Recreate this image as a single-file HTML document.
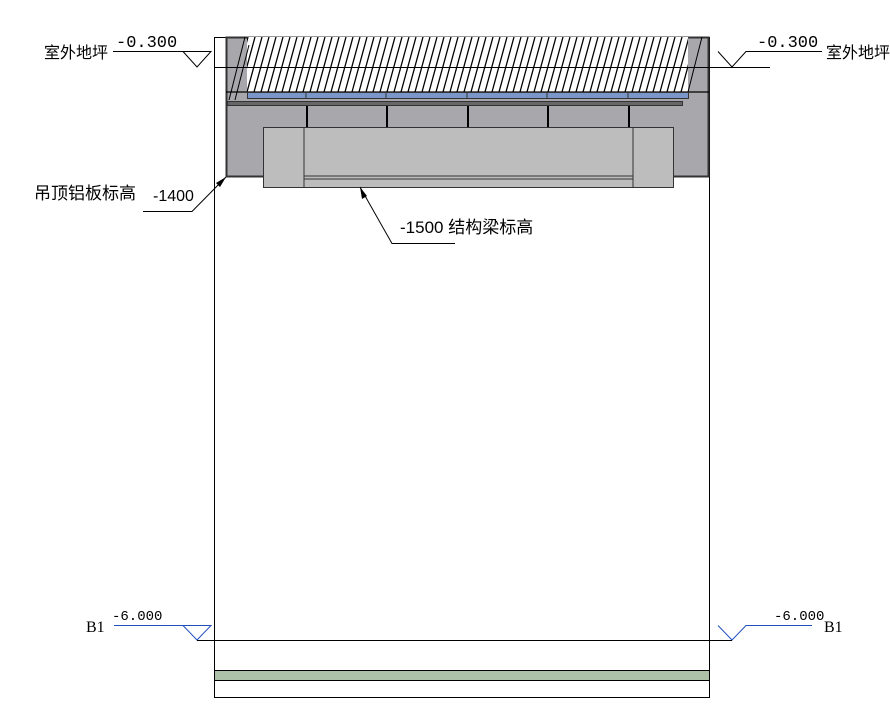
<!DOCTYPE html>
<html><head><meta charset="utf-8"><style>
body{margin:0;background:#fff}
svg{display:block}
text{font-family:"Liberation Sans","Noto Sans CJK SC",sans-serif;fill:#000}
</style></head><body>
<svg width="890" height="711" viewBox="0 0 890 711" xmlns="http://www.w3.org/2000/svg">
<defs>
<clipPath id="hc"><rect x="247" y="37" width="441" height="55"/></clipPath>
</defs>
<rect x="214.5" y="37.5" width="495" height="660" fill="#fff" stroke="#000"/>
<rect x="226.5" y="37.5" width="482" height="139" fill="#a8a8ac" stroke="#333" stroke-width="2"/>
<rect x="247" y="37" width="441" height="55" fill="#fff"/>
<g clip-path="url(#hc)" stroke="#000" stroke-width="1.3">
<path d="M233 92L248 37M240 92L255 37M247 92L262 37M254 92L269 37M261 92L276 37M268 92L283 37M275 92L290 37M282 92L297 37M289 92L304 37M296 92L311 37M303 92L318 37M310 92L325 37M317 92L332 37M324 92L339 37M331 92L346 37M338 92L353 37M345 92L360 37M352 92L367 37M359 92L374 37M366 92L381 37M373 92L388 37M380 92L395 37M387 92L402 37M394 92L409 37M401 92L416 37M408 92L423 37M415 92L430 37M422 92L437 37M429 92L444 37M436 92L451 37M443 92L458 37M450 92L465 37M457 92L472 37M464 92L479 37M471 92L486 37M478 92L493 37M485 92L500 37M492 92L507 37M499 92L514 37M506 92L521 37M513 92L528 37M520 92L535 37M527 92L542 37M534 92L549 37M541 92L556 37M548 92L563 37M555 92L570 37M562 92L577 37M569 92L584 37M576 92L591 37M583 92L598 37M590 92L605 37M597 92L612 37M604 92L619 37M611 92L626 37M618 92L633 37M625 92L640 37M632 92L647 37M639 92L654 37M646 92L661 37M653 92L668 37M660 92L675 37M667 92L682 37M674 92L689 37M681 92L696 37"/>
</g>
<line x1="229" y1="100" x2="245" y2="37" stroke="#000"/>
<line x1="235" y1="100" x2="249" y2="45" stroke="#000"/>
<line x1="688" y1="92" x2="702" y2="37" stroke="#000"/>
<line x1="226" y1="92" x2="709" y2="92" stroke="#000" stroke-width="1.2"/>
<rect x="247.5" y="92.5" width="441" height="6" fill="#7b96c8" stroke="#333"/>
<g stroke="#333"><path d="M306 92V99M386 92V99M467 92V99M547 92V99M628 92V99"/></g>
<rect x="227.5" y="101.5" width="455" height="4" fill="#666" stroke="#333"/>
<g stroke="#000" stroke-width="2"><path d="M307 106V127M387 106V127M468 106V127M548 106V127M629 106V127"/></g>
<rect x="263.5" y="127.5" width="410" height="60" fill="#bdbdbd" stroke="#333"/>
<g stroke="#333"><path d="M304 127V187M633 127V187M304 176H633M304 179H633"/></g>
<line x1="214" y1="67.5" x2="770" y2="67.5" stroke="#000"/>
<g stroke="#000" fill="none">
<path d="M113 51.5H211L197 67L183 51.5"/>
<path d="M718 51.5L732 67L746 51.5H822"/>
</g>
<text x="116" y="47" style="font-family:'Liberation Mono',monospace" font-size="17">-0.300</text>
<text x="44" y="58" font-size="16">室外地坪</text>
<text x="757" y="47" style="font-family:'Liberation Mono',monospace" font-size="17">-0.300</text>
<text x="826" y="58" font-size="16">室外地坪</text>
<g stroke="#1f4fbf" fill="none">
<path d="M114 625.5H211L197 640L183 625.5"/>
<path d="M718 625.5L732 640L746 625.5H812"/>
</g>
<line x1="197" y1="640.5" x2="732" y2="640.5" stroke="#000"/>
<text x="112" y="620" style="font-family:'Liberation Mono',monospace" font-size="14">-6.000</text>
<text x="774" y="620" style="font-family:'Liberation Mono',monospace" font-size="14">-6.000</text>
<text x="86" y="632" font-size="16" style="font-family:'Liberation Serif',serif">B1</text>
<text x="824" y="632" font-size="16" style="font-family:'Liberation Serif',serif">B1</text>
<rect x="214.5" y="670.5" width="495" height="10" fill="#adc0a8" stroke="#000"/>
<path d="M143 211.5H192L226 177" stroke="#000" fill="none"/>
<path d="M226 177L216 183L220 187Z" fill="#000"/>
<text x="153" y="201" font-size="16">-1400</text>
<text x="34" y="199" font-size="17">吊顶铝板标高</text>
<path d="M360 187L392 243.5H455" stroke="#000" fill="none"/>
<path d="M360 187L362 199L367 196Z" fill="#000"/>
<text x="400" y="233" font-size="17">-1500 结构梁标高</text>
</svg>
</body></html>
